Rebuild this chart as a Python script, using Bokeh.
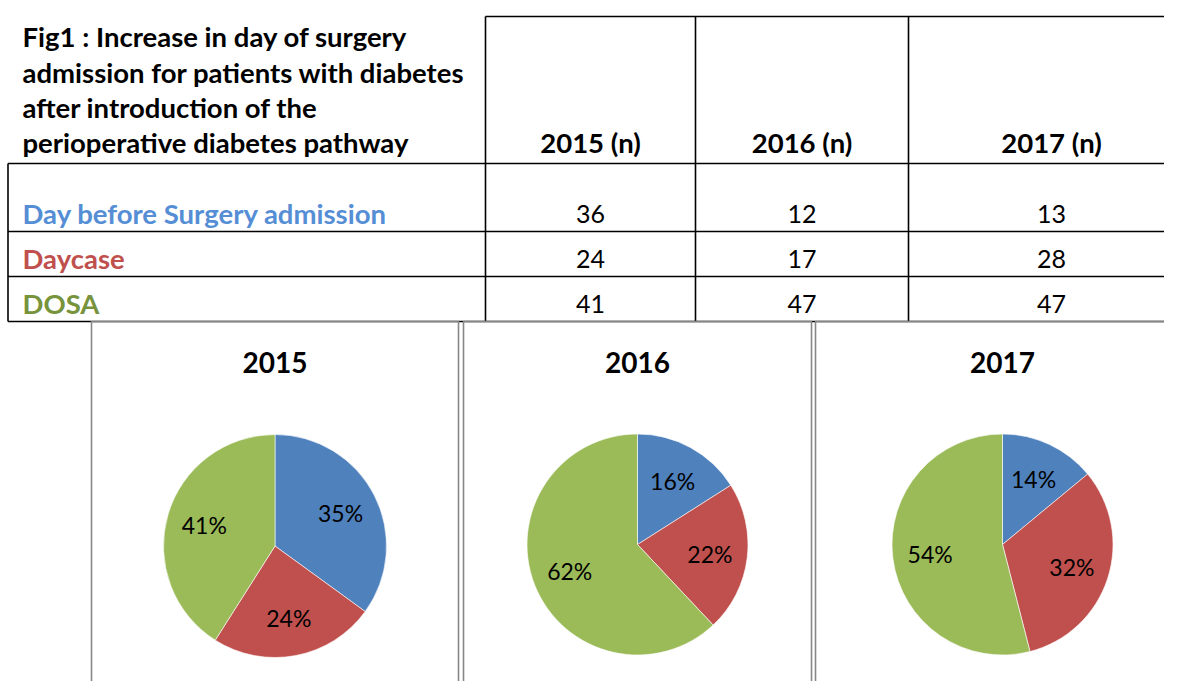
import math
from bokeh.plotting import figure
from bokeh.models import Range1d, ColumnDataSource
from bokeh.core.properties import value
from bokeh.embed import file_html
from bokeh.resources import INLINE

# ---------------- data ----------------
title_lines = ["Fig1 : Increase in day of surgery",
               "admission for patients with diabetes",
               "after introduction of the",
               "perioperative diabetes pathway"]
years = ["2015", "2016", "2017"]
year_headers = ["2015 (n)", "2016 (n)", "2017 (n)"]
categories = ["Day before Surgery admission", "Daycase", "DOSA"]
day_before_surgery = [36, 12, 13]
daycase = [24, 17, 28]
dosa = [41, 47, 47]
share_2015 = [35, 24, 41]
share_2016 = [16, 22, 62]
share_2017 = [14, 32, 54]

# ---------------- style / layout ----------------
W, H = 1180, 697
PW, PH = 1164, 681
FONT = value("Lato")
cat_text_colors = ["#558ED5", "#C0504D", "#77933C"]
slice_colors = ["#4F81BD", "#C0504D", "#9BBB59"]
GRAY = "#878787"

def Y(y):
    return H - y

p = figure(width=PW, height=PH, x_range=Range1d(0, PW), y_range=Range1d(H - PH, H),
           output_backend="svg", toolbar_location=None,
           x_axis_location=None, y_axis_location=None,
           min_border=0, outline_line_color=None)
p.grid.visible = False
p.background_fill_color = "white"
p.border_fill_color = "white"

# ---------------- table ----------------
col_x = [485, 695, 908]
col_centers = [590, 801.5, 1051]
row_mids = [213, 258, 303]
hdr_bottom, row_lines, tbl_bottom, tbl_top = 163, [231, 276], 321, 16

seg = dict(x0=[], y0=[], x1=[], y1=[])
def add(x0, y0, x1, y1):
    seg["x0"].append(x0); seg["y0"].append(Y(y0)); seg["x1"].append(x1); seg["y1"].append(Y(y1))
add(col_x[0], tbl_top, 1200, tbl_top)
for cx in col_x:
    add(cx, tbl_top, cx, tbl_bottom)
add(7.5, hdr_bottom, 1200, hdr_bottom)
for ry in row_lines:
    add(7.5, ry, 1200, ry)
add(7.5, tbl_bottom, 1200, tbl_bottom)
add(7.5, hdr_bottom, 7.5, tbl_bottom)
p.segment(x0="x0", y0="y0", x1="x1", y1="y1", source=ColumnDataSource(seg),
          line_color="black", line_width=1.6)

# title block
title_mids = [36, 71.5, 106.5, 142]
p.text(x=[22] * len(title_lines), y=[Y(b) for b in title_mids], text=title_lines,
       text_font=FONT, text_font_style="bold", text_font_size="27.5px",
       text_color="black", text_align="left", text_baseline="middle")

# year headers
p.text(x=col_centers, y=[Y(142)] * 3, text=year_headers,
       text_font=FONT, text_font_style="bold", text_font_size="27.5px",
       text_color="black", text_align="center", text_baseline="middle")

# category labels
p.text(x=[22] * 3, y=[Y(b) for b in row_mids], text=categories,
       text_font=FONT, text_font_style="bold", text_font_size="27.5px",
       text_color=cat_text_colors, text_align="left", text_baseline="middle")

# values
series = [day_before_surgery, daycase, dosa]
vx, vy, vt = [], [], []
for r, s in enumerate(series):
    for c, v in enumerate(s):
        vx.append(col_centers[c]); vy.append(Y(row_mids[r])); vt.append(str(v))
p.text(x=vx, y=vy, text=vt, text_font=FONT, text_font_size="25px",
       text_color="black", text_align="center", text_baseline="middle")

# ---------------- pie panels ----------------
boxes = [(91, 458), (463, 811), (815, 1200)]
p.quad(left=[b[0] for b in boxes], right=[b[1] for b in boxes],
       top=[Y(321)] * 3, bottom=[Y(720)] * 3,
       fill_color=None, line_color=GRAY, line_width=1.6)

centers = [(274.5, 545.5), (637, 544), (1002, 544)]
radii = [111.5, 110.5, 110.5]
shares = [share_2015, share_2016, share_2017]

p.text(x=[c[0] for c in centers], y=[Y(362)] * 3, text=years,
       text_font=FONT, text_font_style="bold", text_font_size="28px",
       text_color="black", text_align="center", text_baseline="middle")

for (cx, cy), R, sh in zip(centers, radii, shares):
    total = float(sum(sh))
    cum = 0.0
    starts, ends, lx, ly, lt = [], [], [], [], []
    for v in sh:
        t0 = cum / total * 2 * math.pi
        cum += v
        t1 = cum / total * 2 * math.pi
        starts.append(math.pi / 2 - t1)
        ends.append(math.pi / 2 - t0)
        tm = (t0 + t1) / 2
        lx.append(cx + 0.66 * R * math.sin(tm))
        ly.append(Y(cy - 0.66 * R * math.cos(tm)))
        lt.append(f"{v}%")
    src = ColumnDataSource(dict(x=[cx] * 3, y=[Y(cy)] * 3, s=starts, e=ends, c=slice_colors))
    p.wedge(x="x", y="y", radius=R, start_angle="s", end_angle="e", direction="anticlock",
            fill_color="c", line_color="white", line_width=0.6, source=src)
    p.text(x=lx, y=ly, text=lt, text_font=FONT, text_font_size="23px",
           text_color="black", text_align="center", text_baseline="middle")

open("out.html", "w").write(file_html(p, INLINE))
